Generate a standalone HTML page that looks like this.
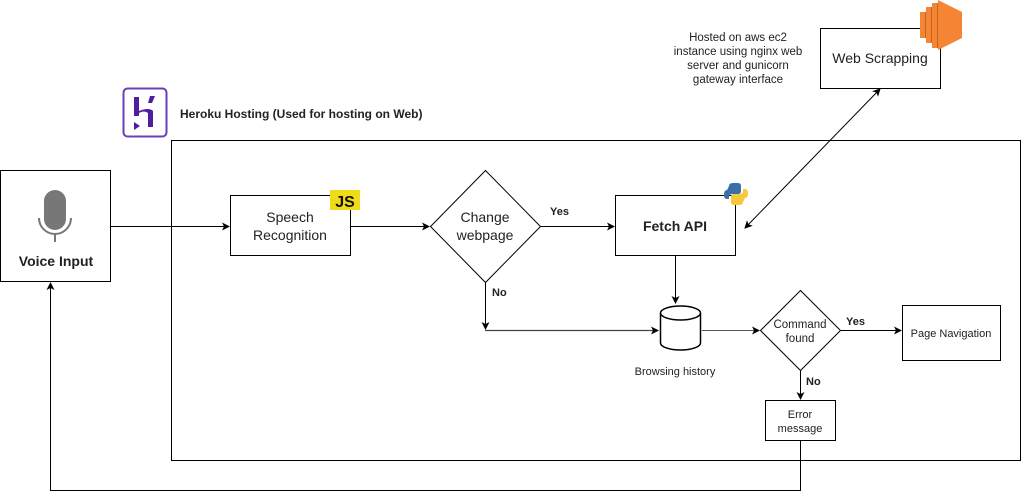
<!DOCTYPE html>
<html><head><style>
body{margin:0;width:1021px;height:499px;background:#fff;overflow:hidden}
text{font-family:"Liberation Sans",sans-serif;fill:#222}
</style></head><body>
<svg width="1021" height="499" xmlns="http://www.w3.org/2000/svg">
<defs><marker id="a" markerWidth="8" markerHeight="8" refX="7" refY="4" orient="auto" markerUnits="userSpaceOnUse"><path d="M0,0 L8,4 L0,8 L2,4z" fill="#000"/></marker>
<marker id="s" markerWidth="8" markerHeight="8" refX="1" refY="4" orient="auto" markerUnits="userSpaceOnUse"><path d="M8,0 L0,4 L8,8 L6,4z" fill="#000"/></marker></defs>
<g stroke="#000" fill="none" stroke-width="1">
<rect x="171.5" y="140.5" width="849" height="320"/>
<rect x="0.5" y="170.5" width="110" height="111" fill="#fff"/>
<rect x="230.5" y="195.5" width="120" height="60" fill="#fff"/>
<polygon points="485.5,170.5 540.5,226.5 485.5,282.5 430.5,226.5" fill="#fff"/>
<rect x="615.5" y="195.5" width="120" height="60" fill="#fff"/>
<rect x="820.5" y="28.5" width="120" height="60" fill="#fff"/>
<polygon points="800.5,290.5 840.5,330.5 800.5,370.5 760.5,330.5" fill="#fff"/>
<rect x="902.5" y="305.5" width="98" height="55" fill="#fff"/>
<rect x="765.5" y="400.5" width="70" height="40" fill="#fff"/>
<path d="M660.5,313 v30 a20,7 0 0 0 40,0 v-30 a20,7 0 0 0 -40,0 a20,7 0 0 0 40,0" stroke-width="1.5" fill="#fff"/>
<path d="M110,226.5 H229" marker-end="url(#a)"/>
<path d="M351,226.5 H429" marker-end="url(#a)"/>
<path d="M541,226.5 H614" marker-end="url(#a)"/>
<path d="M485.5,283 V329" marker-end="url(#a)"/>
<path d="M485,330.5 H658" marker-end="url(#a)" stroke="#444" stroke-width="1.3"/>
<path d="M675.5,256 V303" marker-end="url(#a)"/>
<path d="M702,330.5 H759" marker-end="url(#a)" stroke="#555"/>
<path d="M841,330.5 H901" marker-end="url(#a)"/>
<path d="M800.5,371 V399" marker-end="url(#a)"/>
<path d="M800.5,441 V490.5 H50.5 V283" marker-end="url(#a)"/>
<path d="M745,228 L880,89" marker-end="url(#a)" marker-start="url(#s)"/>
</g>
<rect x="123.5" y="88.5" width="43" height="48" rx="4" fill="none" stroke="#6b3fb4" stroke-width="2"/>
<path d="M134,97 h5 v14 q10,-4 14,0 v16 h-5 v-14 q-4,-3 -9,0 v3 h-5z M150,96 l5,0 l-3,7 h-4z M134,122 l6,4 l-6,4z" fill="#4f1d9e"/>
<text x="180" y="118" font-size="12" font-weight="bold">Heroku Hosting (Used for hosting on Web)</text>
<rect x="44" y="190" width="22" height="40" rx="11" fill="#777"/>
<path d="M39,218 a16,16 0 0 0 32,0" fill="none" stroke="#777" stroke-width="2"/>
<rect x="54" y="234" width="2" height="8" fill="#777"/>
<text x="56" y="266" font-size="14" font-weight="bold" text-anchor="middle">Voice Input</text>
<rect x="330" y="190" width="30" height="20" fill="#f0db1a"/>
<text x="345" y="207" font-size="16" font-weight="bold" text-anchor="middle" style="fill:#111">JS</text>
<text x="290" y="222" font-size="14" text-anchor="middle">Speech</text>
<text x="290" y="240" font-size="14" text-anchor="middle">Recognition</text>
<text x="485" y="222" font-size="14" text-anchor="middle">Change</text>
<text x="485" y="240" font-size="14" text-anchor="middle">webpage</text>
<text x="550" y="215" font-size="11" font-weight="bold">Yes</text>
<text x="492" y="296" font-size="11" font-weight="bold">No</text>
<text x="675" y="231" font-size="14" font-weight="bold" text-anchor="middle">Fetch API</text>
<path d="M729,186 q0,-3 4,-3 h5 q3,0 3,3 v5 q0,3 -3,3 h-6 q-3,0 -3,3 v2 h-2 q-3,0 -3,-4 q0,-5 3,-5 z" fill="#3a70a8"/>
<path d="M743,202 q0,3 -4,3 h-5 q-3,0 -3,-3 v-5 q0,-3 3,-3 h6 q3,0 3,-3 v-2 h2 q3,0 3,4 q0,5 -3,5 z" fill="#f5c93a"/>
<text x="880" y="63" font-size="14" text-anchor="middle">Web Scrapping</text>
<g fill="#f58534"><rect x="920" y="12" width="6" height="26"/><rect x="926" y="7" width="6" height="36"/><rect x="932" y="3" width="6" height="45"/><polygon points="938,0 962,12 962,38 938,50"/></g>
<g fill="#c06420"><rect x="925" y="12" width="1" height="26"/><rect x="931" y="7" width="1" height="36"/><rect x="937" y="3" width="1" height="45"/></g>
<g font-size="11.5" text-anchor="middle"><text x="738" y="41">Hosted  on aws ec2</text><text x="738" y="55">instance using nginx web</text><text x="738" y="69">server and gunicorn</text><text x="738" y="83">gateway interface</text></g>
<text x="675" y="375" font-size="11" text-anchor="middle">Browsing history</text>
<text x="800" y="328" font-size="11.5" text-anchor="middle">Command</text>
<text x="800" y="342" font-size="11.5" text-anchor="middle">found</text>
<text x="846" y="325" font-size="11" font-weight="bold">Yes</text>
<text x="806" y="385" font-size="11" font-weight="bold">No</text>
<text x="951" y="337" font-size="11" text-anchor="middle">Page Navigation</text>
<text x="800" y="418" font-size="11" text-anchor="middle">Error</text>
<text x="800" y="432" font-size="11" text-anchor="middle">message</text>
</svg>
</body></html>
